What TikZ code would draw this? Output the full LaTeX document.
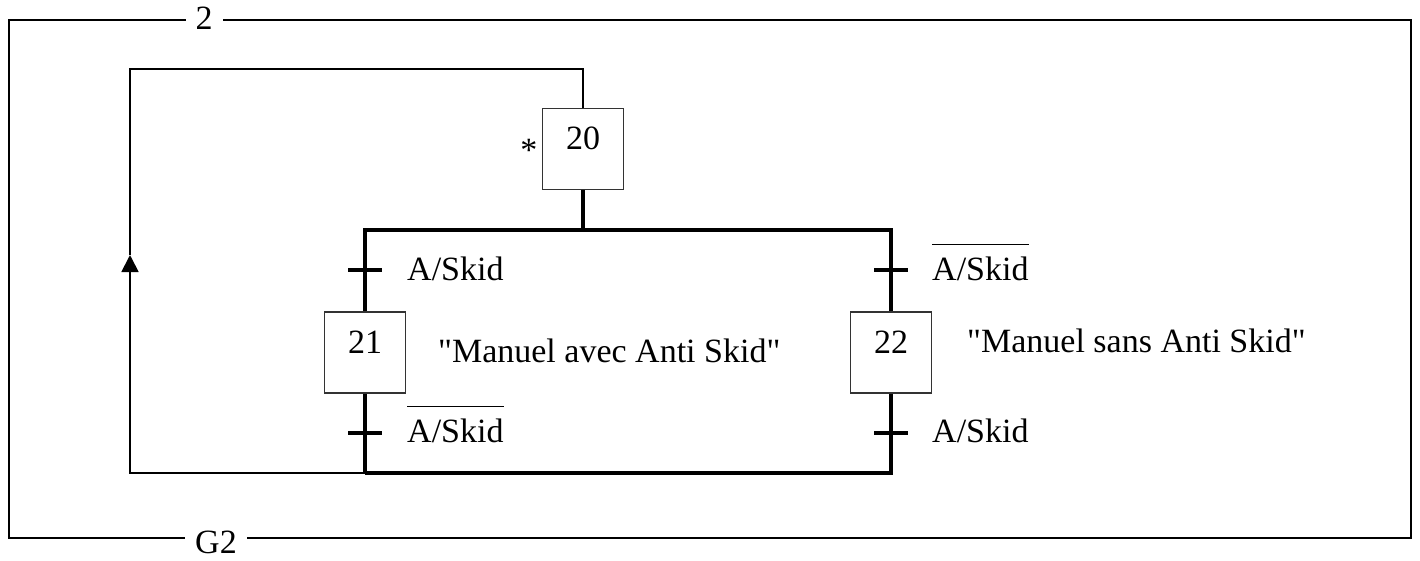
\documentclass[tikz,border=0pt]{standalone}
\usepackage{fontspec}
\setmainfont{Liberation Serif}[Ligatures=TeXOff]
\usetikzlibrary{arrows.meta,positioning}
\newcommand{\barre}[1]{\vbox{\hrule height 1.5pt\kern 11pt\hbox{#1}}}

\begin{document}
\begin{tikzpicture}[x=1pt, y=-1pt,
		every node/.style={font=\fontsize{34}{40}\selectfont},
		etape/.style={rectangle, draw=black!80, line width=1.8pt, fill=white, minimum width=81pt, minimum height=81pt, text depth=21pt, inner sep=0pt},
		franch/.style={rectangle, fill=black, minimum width=34pt, minimum height=4pt, inner sep=0pt},
		cond/.style={anchor=base west, inner sep=0pt},
		liaison/.style={line width=3.2pt},
		retour/.style={line width=1.8pt}]
		\useasboundingbox (0,0) rectangle (1420,560);
		\draw[line width=1.8pt] (9,20) rectangle (1411,538);
		\node[fill=white, inner xsep=10pt, inner ysep=2pt] (num) at (204,18) {2};
		\node[fill=white, inner xsep=10pt, inner ysep=2pt] (nom) at (216,542) {G2};

		\node[etape] (E20) at (583,149) {20};
		\node[etape] (E21) at (365,352.5) {21};
		\node[etape] (E22) at (891,352.5) {22};
		\node[left=4pt of E20, yshift=-1pt, inner sep=0pt] (init) {*};

		\coordinate (div-g) at (365,230);
		\coordinate (div-d) at (891,230);
		\coordinate (conv-g) at (365,473);
		\coordinate (conv-d) at (891,473);
		\coordinate (ret-b) at (130,473);
		\coordinate (ret-m) at (130,255);
		\coordinate (ret-h) at (130,69);

		\draw[liaison] (E20.south) -- (E20.south |- div-g);
		\draw[liaison] (E21.north) -- (div-g) -- (div-d) -- (E22.north);
		\draw[liaison] (E21.south) -- (conv-g);
		\draw[liaison] (E22.south) -- (conv-d) -- (conv-g);
		\draw[retour, -{Triangle[width=17pt, length=17pt]}] (conv-g) -- (ret-b) -- (ret-m);
		\draw[retour] (ret-m) -- (ret-h) -- (ret-h -| E20) -- (E20.north);

		\node[franch] (T1) at (365,270) {};
		\node[franch] (T2) at (891,270) {};
		\node[franch] (T3) at (365,433) {};
		\node[franch] (T4) at (891,433) {};
		\node[cond] (c1) at (407,280) {A/Skid};
		\node[cond] (c2) at (932,280) {\barre{A/Skid}};
		\node[cond] (c3) at (407,442) {\barre{A/Skid}};
		\node[cond] (c4) at (932,442) {A/Skid};

		\node[cond] (a21) at (438,362) {"Manuel avec Anti Skid"};
		\node[cond] (a22) at (967,352) {"Manuel sans Anti Skid"};
	\end{tikzpicture}
\end{document}
